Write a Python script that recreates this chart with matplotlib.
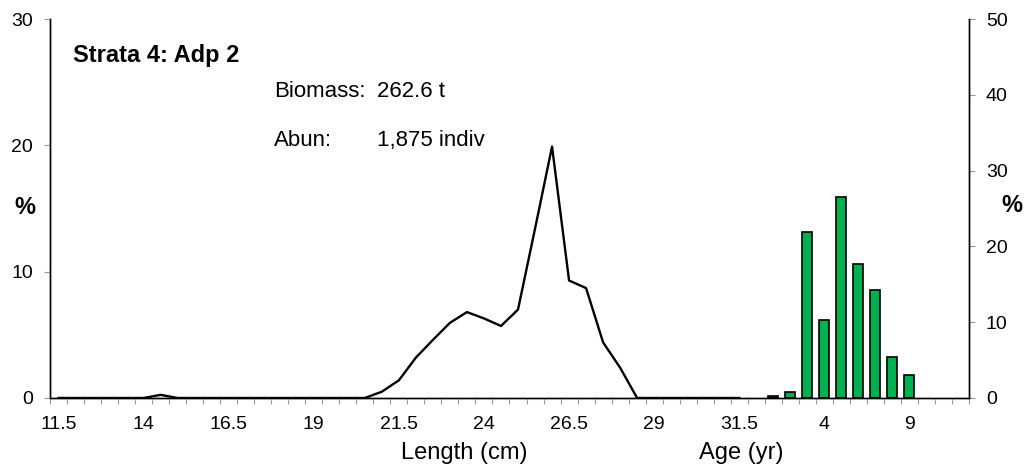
import matplotlib

matplotlib.use("Agg")
import matplotlib.pyplot as plt
import numpy as np

plt.rcParams["font.family"] = ["Liberation Sans", "DejaVu Sans"]

# length classes (cm) followed by age classes (yr) on one category axis
lengths = [11.5, 12, 12.5, 13, 13.5, 14, 14.5, 15, 15.5, 16, 16.5, 17, 17.5, 18,
           18.5, 19, 19.5, 20, 20.5, 21, 21.5, 22, 22.5, 23, 23.5, 24, 24.5, 25,
           25.5, 26, 26.5, 27, 27.5, 28, 28.5, 29, 29.5, 30, 30.5, 31, 31.5]
ages = [0, 1, 2, 3, 4, 5, 6, 7, 8, 9, 10, 11, 12]

length_pct = [0, 0, 0, 0, 0, 0, 0.25, 0, 0, 0, 0, 0, 0, 0,
              0, 0, 0, 0, 0, 0.5, 1.4, 3.2, 4.6, 5.95, 6.8, 6.3, 5.7, 7.0,
              13.4, 19.9, 9.3, 8.7, 4.4, 2.4, 0, 0, 0, 0, 0, 0, 0]
age_pct = [0, 0.3, 0.8, 21.9, 10.3, 26.5, 17.7, 14.2, 5.4, 3.0, 0, 0, 0]

title = "Strata 4: Adp 2"
biomass = "262.6 t"
abundance = "1,875 indiv"

labels = [f"{v:g}" for v in lengths] + [str(a) for a in ages]
n = len(labels)
x_len = np.arange(len(lengths))
x_age = np.arange(len(lengths), n)

W, H = 1029, 466
fig = plt.figure(figsize=(W / 100, H / 100), dpi=100)
ax = fig.add_axes([50 / W, (H - 398) / H, (969 - 50) / W, (398 - 19) / H])
ax2 = ax.twinx()

ax.plot(x_len, length_pct, color="black", linewidth=1.7, zorder=3)

age_vals = np.asarray(age_pct)
keep = age_vals > 0
ax2.bar(x_age[keep], age_vals[keep], width=0.58, color="#00b050",
        edgecolor="black", linewidth=1.2, zorder=2)

ax.set_xlim(-0.5, n - 0.5)
ax.set_ylim(0, 30)
ax2.set_ylim(0, 50)
ax.set_yticks([0, 10, 20, 30])
ax2.set_yticks([0, 10, 20, 30, 40, 50])

major = np.arange(0, n, 5)
ax.set_xticks(major, labels=[labels[i] for i in major])
ax.set_xticks(np.arange(-0.5, n, 1), minor=True)
ax.tick_params(axis="x", which="major", length=0, pad=13, labelsize=14)
ax.tick_params(axis="x", which="minor", length=4.5, color="#999999", width=0.8)
ax.tick_params(axis="y", length=4.2, color="#999999", width=0.8, pad=8, labelsize=14)
ax2.tick_params(axis="y", length=4.2, color="#999999", width=0.8, pad=8, labelsize=14)

for a in (ax, ax2):
    a.spines["top"].set_visible(False)
    for s in ("left", "right", "bottom"):
        a.spines[s].set_color("black")
        a.spines[s].set_linewidth(1.0)
ax.set_zorder(ax2.get_zorder() + 1)
ax.patch.set_visible(False)

fig.text(25 / W, 1 - 208 / H, "%", fontsize=17, fontweight="bold", ha="center", va="center")
fig.text(1012 / W, 1 - 205 / H, "%", fontsize=17, fontweight="bold", ha="center", va="center")

fig.text(73 / W, 1 - 62 / H, title, fontsize=17, fontweight="bold", ha="left", va="baseline")
fig.text(274 / W, 1 - 97 / H, "Biomass:", fontsize=16, ha="left", va="baseline")
fig.text(377 / W, 1 - 97 / H, biomass, fontsize=16, ha="left", va="baseline")
fig.text(274 / W, 1 - 146 / H, "Abun:", fontsize=16, ha="left", va="baseline")
fig.text(377 / W, 1 - 146 / H, abundance, fontsize=16, ha="left", va="baseline")

# axis titles sit on the bottom edge of the figure
fig.text(464 / W, 2 / H, "Length (cm)", fontsize=17, ha="center", va="bottom")
fig.text(741 / W, 2 / H, "Age (yr)", fontsize=17, ha="center", va="bottom")

fig.savefig("out.png", dpi=100)
plt.close(fig)
